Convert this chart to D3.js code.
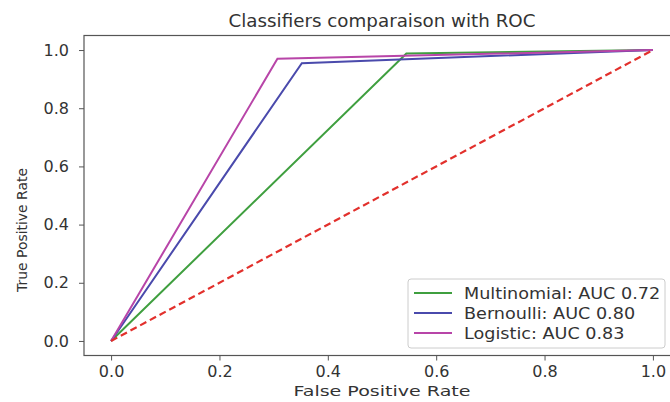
<!DOCTYPE html>
<meta charset="utf-8">
<style>
body{ margin:0; background:#fff; }
text{ font-family:"DejaVu Sans", sans-serif; fill:#333; }
.tick text{ font-size:16px; }
.tick line{ stroke:#555; }
.domain{ stroke:none; }
.title{ font-size:17px; text-anchor:middle; }
.alabel{ font-size:14px; text-anchor:middle; }
.legend text{ font-size:16px; }
</style>
<body>
<div id="chart"></div>
<script src="https://d3js.org/d3.v7.min.js"></script>
<script>
// ROC points (fpr, tpr) per classifier
var multinomialFpr = [0, 0.545, 1];
var multinomialTpr = [0, 0.988, 1];
var bernoulliFpr = [0, 0.352, 1];
var bernoulliTpr = [0, 0.955, 1];
var logisticFpr = [0, 0.307, 1];
var logisticTpr = [0, 0.970, 1];
var chanceFpr = [0, 1];
var chanceTpr = [0, 1];

var seriesNames = ["Multinomial: AUC 0.72", "Bernoulli: AUC 0.80", "Logistic: AUC 0.83"];
var seriesColors = ["#3f9f3f", "#4a4aac", "#b845a8"];
var tickValues = [0, 0.2, 0.4, 0.6, 0.8, 1.0];

var W = 670, H = 402;
var svg = d3.select("#chart").append("svg").attr("width", W).attr("height", H);

var x = d3.scaleLinear().domain([-0.05, 1.05]).range([84, 680]);
var y = d3.scaleLinear().domain([-0.05, 1.05]).range([355.5, 35.5]);

svg.append("text").attr("class","title").attr("x", 382).attr("y", 27)
    .attr("textLength", 307).attr("lengthAdjust","spacingAndGlyphs")
    .text("Classifiers comparaison with ROC");

// axes
svg.append("g").attr("transform","translate(0,355.5)")
    .call(d3.axisBottom(x).tickValues(tickValues).tickFormat(d3.format(".1f")).tickSize(5).tickPadding(5));
svg.append("g").attr("transform","translate(84,0)")
    .call(d3.axisLeft(y).tickValues(tickValues).tickFormat(d3.format(".1f")).tickSize(5).tickPadding(10));

function toPts(xs, ys){ return xs.map(function(v,i){ return [v, ys[i]]; }); }
var line = d3.line().x(d=>x(d[0])).y(d=>y(d[1]));

var series = [
    toPts(multinomialFpr, multinomialTpr),
    toPts(bernoulliFpr, bernoulliTpr),
    toPts(logisticFpr, logisticTpr)
];

var plot = svg.append("g");
series.forEach(function(s, i){
    plot.append("path").attr("d", line(s)).attr("fill","none")
        .attr("stroke", seriesColors[i]).attr("stroke-width", 2);
});
plot.append("path").attr("d", line(toPts(chanceFpr, chanceTpr))).attr("fill","none")
    .attr("stroke","#e2302c").attr("stroke-width",2.2).attr("stroke-dasharray","7,4");

// frame
svg.append("rect").attr("x",84).attr("y",35.5).attr("width",596).attr("height",320)
    .attr("fill","none").attr("stroke","#555").attr("stroke-width",1.2);

svg.append("text").attr("class","alabel").attr("x", 382).attr("y", 396)
    .attr("textLength", 177).attr("lengthAdjust","spacingAndGlyphs").text("False Positive Rate");
svg.append("text").attr("class","alabel")
    .attr("transform","translate(27,230) rotate(-90)")
    .attr("x", 0).attr("textLength", 124).attr("lengthAdjust","spacingAndGlyphs")
    .text("True Positive Rate");

// legend
var lg = svg.append("g").attr("class","legend");
lg.append("rect").attr("x",408).attr("y",279).attr("width",257).attr("height",69).attr("rx",3)
    .attr("fill","#fff").attr("stroke","#ccc");
seriesNames.forEach(function(n, i){
    var yy = 293 + i*20;
    lg.append("line").attr("x1",414).attr("x2",452).attr("y1",yy).attr("y2",yy)
        .attr("stroke",seriesColors[i]).attr("stroke-width",2);
    var t = lg.append("text").attr("x",464).attr("y",yy+6).text(n);
    var w = t.node().getComputedTextLength();
    t.attr("textLength", w * 1.1).attr("lengthAdjust","spacingAndGlyphs");
});
</script>
</body>
</html>
